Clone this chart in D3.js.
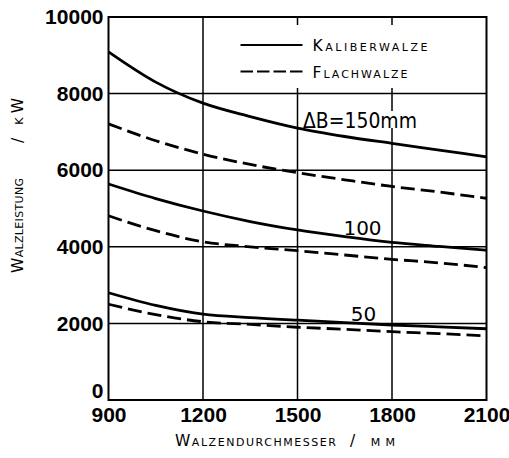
<!doctype html>
<html>
<head>
<meta charset="utf-8">
<title>Walzleistung</title>
<style>
  body { margin: 0; background: #fff; }
  text { fill: #000; }
</style>
</head>
<body>
<div id="chart-area"></div>
<script src="https://cdn.jsdelivr.net/npm/d3@7"></script>
<script type="text/javascript">
  // data (kW over roll diameter in mm)
  var diameters = [900, 1050, 1200, 1350, 1500, 1650, 1800, 1950, 2100];
  var kaliber150 = [9090, 8300, 7750, 7400, 7100, 6880, 6700, 6525, 6350];
  var flach150 = [7210, 6770, 6420, 6150, 5935, 5750, 5575, 5430, 5265];
  var kaliber100 = [5640, 5260, 4935, 4660, 4440, 4265, 4115, 4010, 3910];
  var flach100 = [4810, 4420, 4130, 4000, 3898, 3786, 3673, 3580, 3455];
  var kaliber50 = [2800, 2470, 2240, 2150, 2085, 2018, 1958, 1910, 1860];
  var flach50 = [2500, 2230, 2044, 1975, 1900, 1846, 1783, 1735, 1671];
  var xTicks = [900, 1200, 1500, 1800, 2100];
  var yTicks = [0, 2000, 4000, 6000, 8000, 10000];
  var seriesNames = ['Kaliberwalze', 'Flachwalze'];

  var margin = {left: 108.5, right: 22.5, top: 17, bottom: 58};
  var width = 509 - margin.left - margin.right;
  var height = 458 - margin.top - margin.bottom;
  var font = '"Liberation Sans", Arial, sans-serif';
  var labelFont = '"DejaVu Sans", sans-serif';

  var svg = d3.select('#chart-area')
      .append('svg')
      .attr('width', 509)
      .attr('height', 458);
  var g = svg.append('g')
      .attr('transform', 'translate(' + margin.left + ',' + margin.top + ')');

  var x = d3.scaleLinear().domain([900, 2100]).range([0, width]);
  var y = d3.scaleLinear().domain([0, 10000]).range([height, 0]);

  // grid
  g.selectAll('.vgrid')
      .data(xTicks.slice(1, -1))
      .enter().append('line')
      .attr('x1', function(d) { return x(d); })
      .attr('x2', function(d) { return x(d); })
      .attr('y1', 0)
      .attr('y2', height)
      .attr('stroke', '#000')
      .attr('stroke-width', 1.5);
  g.selectAll('.hgrid')
      .data(yTicks.slice(1, -1))
      .enter().append('line')
      .attr('x1', 0)
      .attr('x2', width)
      .attr('y1', function(d) { return y(d); })
      .attr('y2', function(d) { return y(d); })
      .attr('stroke', '#000')
      .attr('stroke-width', 1.5);

  // white area behind the legend
  g.append('rect')
      .attr('x', x(1290))
      .attr('y', 8)
      .attr('width', x(2100) - x(1290) - 1)
      .attr('height', 63)
      .attr('fill', '#fff');

  // curve label with white background
  var lab150 = g.append('g');
  lab150.append('rect')
      .attr('x', 193)
      .attr('y', 94)
      .attr('width', 118)
      .attr('height', 17)
      .attr('fill', '#fff');
  lab150.append('text')
      .attr('x', 194.5)
      .attr('y', 111)
      .attr('font-family', labelFont)
      .attr('font-size', '21px')
      .attr('textLength', 114)
      .attr('lengthAdjust', 'spacingAndGlyphs')
      .text('ΔB=150mm');

  g.append('text')
      .attr('x', 254)
      .attr('y', 218)
      .attr('text-anchor', 'middle')
      .attr('font-family', labelFont)
      .attr('font-size', '20px')
      .text('100');
  g.append('text')
      .attr('x', 255)
      .attr('y', 304)
      .attr('text-anchor', 'middle')
      .attr('font-family', labelFont)
      .attr('font-size', '20px')
      .text('50');

  // curves
  var line = d3.line()
      .x(function(d) { return x(d[0]); })
      .y(function(d) { return y(d[1]); })
      .curve(d3.curveMonotoneX);

  var curves = [
    {values: kaliber150, dash: null},
    {values: flach150, dash: '14,6'},
    {values: kaliber100, dash: null},
    {values: flach100, dash: '14,6'},
    {values: kaliber50, dash: null},
    {values: flach50, dash: '14,6'}
  ];
  g.selectAll('.curve')
      .data(curves)
      .enter().append('path')
      .attr('class', 'curve')
      .attr('d', function(c) {
        return line(diameters.map(function(d, i) { return [d, c.values[i]]; }));
      })
      .attr('fill', 'none')
      .attr('stroke', '#000')
      .attr('stroke-width', 2.8)
      .attr('stroke-dasharray', function(c) { return c.dash; });

  // frame
  g.append('rect')
      .attr('x', 0)
      .attr('y', 0)
      .attr('width', width)
      .attr('height', height)
      .attr('fill', 'none')
      .attr('stroke', '#000')
      .attr('stroke-width', 2);

  // axes (labels only)
  var xAxisGroup = g.append('g')
      .attr('transform', 'translate(0,' + height + ')')
      .call(d3.axisBottom(x).tickValues(xTicks).tickSize(0).tickPadding(7)
          .tickFormat(d3.format('d')));
  var yAxisGroup = g.append('g')
      .call(d3.axisLeft(y).tickValues(yTicks).tickSize(0).tickPadding(5)
          .tickFormat(d3.format('d')));
  [xAxisGroup, yAxisGroup].forEach(function(a) {
    a.select('.domain').remove();
    a.selectAll('text')
        .attr('font-family', font)
        .attr('font-weight', 'bold')
        .attr('font-size', '21px')
        .attr('fill', '#000');
  });
  yAxisGroup.selectAll('.tick')
      .filter(function(d) { return d === 0; })
      .select('text')
      .attr('dy', '-0.1em');

  // legend
  var legend = g.append('g');
  seriesNames.forEach(function(name, i) {
    var ly = 28 + i * 26.5;
    legend.append('line')
        .attr('x1', 132)
        .attr('x2', 194)
        .attr('y1', ly)
        .attr('y2', ly)
        .attr('stroke', '#000')
        .attr('stroke-width', 2.2)
        .attr('stroke-dasharray', i === 1 ? '12.5,4' : null);
    legend.append('text')
        .attr('x', 204)
        .attr('y', ly + 6)
        .attr('font-family', labelFont)
        .attr('font-size', '15.5px')
        .style('font-variant', 'small-caps')
        .attr('textLength', i === 0 ? 115 : 95)
        .attr('lengthAdjust', 'spacing')
        .text(name);
  });

  // axis titles
  var xTitle = svg.append('text')
      .attr('y', 446)
      .attr('font-family', labelFont)
      .attr('font-size', '15.5px')
      .style('font-variant', 'small-caps');
  xTitle.append('tspan')
      .attr('x', 175)
      .attr('textLength', 161)
      .attr('lengthAdjust', 'spacing')
      .text('Walzendurchmesser');
  xTitle.append('tspan')
      .attr('x', 350)
      .attr('textLength', 45)
      .attr('lengthAdjust', 'spacing')
      .text('/ mm');

  var yTitle = svg.append('text')
      .attr('transform', 'rotate(-90)')
      .attr('y', 23)
      .attr('font-family', labelFont)
      .attr('font-size', '15.5px')
      .style('font-variant', 'small-caps');
  yTitle.append('tspan')
      .attr('x', -273)
      .attr('textLength', 95)
      .attr('lengthAdjust', 'spacing')
      .text('Walzleistung');
  yTitle.append('tspan')
      .attr('x', -143)
      .attr('textLength', 45)
      .attr('lengthAdjust', 'spacing')
      .text('/ kW');
</script>
</body>
</html>
